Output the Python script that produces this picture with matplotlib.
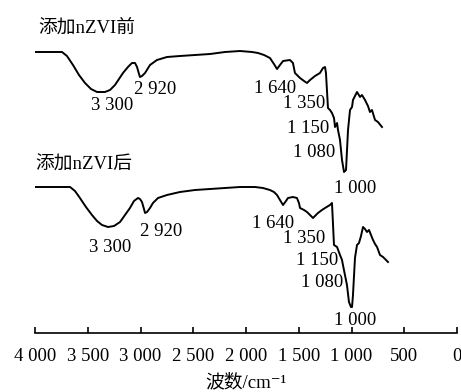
import matplotlib
matplotlib.use("Agg")
import matplotlib.pyplot as plt
import numpy as np

plt.rcParams['font.family'] = ['Liberation Serif', 'Noto Sans CJK SC', 'DejaVu Serif']

# spectrum before nZVI (wavenumber, transmittance a.u.)
wn_before = [4000, 3744, 3697, 3640, 3583, 3526, 3469, 3412, 3337, 3289,
             3242, 3166, 3119, 3081, 3052, 3033, 3014, 3005, 2986, 2957,
             2910, 2844, 2749, 2626, 2483, 2341, 2199, 2057, 1943, 1886,
             1829, 1773, 1735, 1706, 1678, 1649, 1583, 1555, 1536, 1488,
             1450, 1422, 1393, 1346, 1299, 1270, 1251, 1242, 1223, 1204,
             1185, 1166, 1156, 1137, 1128, 1109, 1090, 1071, 1052, 1033,
             1014, 995, 986, 948, 919, 901, 872, 844, 825, 806,
             777, 749, 711]
t_before = [281, 281, 277, 268, 258, 250, 244, 241, 241, 243,
            248, 260, 266, 270, 270, 266, 259, 256, 257, 260,
            268, 273, 276, 277, 278, 279, 281, 282, 281, 280,
            278, 275, 269, 264, 268, 272, 273, 270, 260, 255,
            252, 250, 253, 257, 260, 265, 266, 260, 225, 223,
            220, 215, 206, 210, 203, 193, 173, 161, 163, 203,
            223, 226, 233, 241, 236, 238, 233, 227, 221, 223,
            213, 211, 206]

# spectrum after nZVI
wn_after = [4000, 3668, 3621, 3574, 3517, 3460, 3412, 3365, 3308, 3251,
            3194, 3147, 3100, 3062, 3024, 3005, 2986, 2967, 2957, 2938,
            2910, 2882, 2834, 2749, 2626, 2483, 2341, 2199, 2057, 1915,
            1839, 1773, 1735, 1706, 1678, 1649, 1621, 1602, 1555, 1517,
            1498, 1488, 1450, 1422, 1393, 1365, 1337, 1318, 1280, 1251,
            1204, 1185, 1175, 1166, 1137, 1109, 1090, 1081, 1062, 1043,
            1024, 1005, 995, 986, 967, 948, 929, 910, 891, 872,
            853, 834, 815, 796, 777, 758, 730, 701, 654]
t_after = [146, 146, 142, 135, 126, 118, 112, 108, 106, 107,
           111, 118, 125, 132, 135, 134, 131, 124, 120, 121,
           125, 130, 135, 138, 141, 143, 144, 145, 146, 146,
           145, 143, 141, 138, 133, 128, 132, 135, 136, 135,
           130, 125, 123, 121, 118, 115, 118, 120, 123, 125,
           128, 130, 108, 88, 86, 78, 73, 68, 58, 48,
           31, 26, 26, 38, 75, 88, 90, 97, 106, 104,
           101, 103, 98, 93, 89, 86, 78, 76, 71]

peak_labels = ["3 300", "2 920", "1 640", "1 350", "1 150", "1 080", "1 000"]
# label anchor points (wavenumber, baseline) for each spectrum
pos_before = [(3270, 223), (2863, 239), (1725, 240), (1450, 225),
              (1412, 200), (1356, 176), (967, 140)]
pos_after = [(3289, 81), (2806, 97), (1744, 105), (1450, 90),
             (1327, 68), (1280, 46), (967, 8)]

ticks = [4000, 3500, 3000, 2500, 2000, 1500, 1000, 500, 0]
tick_labels = ["4 000", "3 500", "3 000", "2 500", "2 000", "1 500", "1 000", "500", "0"]

fig = plt.figure(figsize=(4.61, 3.92), dpi=100)
ax = fig.add_axes([35 / 461, 59 / 392, 422 / 461, 333 / 392])
ax.plot(wn_before, t_before, color='black', lw=1.4)
ax.plot(wn_after, t_after, color='black', lw=1.4)

for lab, (x, y) in zip(peak_labels, pos_before):
    ax.text(x, y, lab, ha='center', va='baseline', fontsize=13.5)
for lab, (x, y) in zip(peak_labels, pos_after):
    ax.text(x, y, lab, ha='center', va='baseline', fontsize=13.5)

ax.text(3972, 300, "添加nZVI前", ha='left', va='baseline', fontsize=13.5)
ax.text(4000, 163, "添加nZVI后", ha='left', va='baseline', fontsize=13.5)

ax.set_xlim(4000, 0)
ax.set_ylim(0, 333)
ax.set_xticks(ticks)
ax.set_xticklabels(tick_labels, fontsize=13.5)
ax.set_yticks([])
for s in ['top', 'left', 'right']:
    ax.spines[s].set_visible(False)
ax.spines['bottom'].set_linewidth(1.2)
ax.tick_params(axis='x', direction='in', length=4, width=1.2, pad=11)
ax.set_xlabel("波数/cm⁻¹", fontsize=13.5, labelpad=6)
ax.patch.set_alpha(0)

fig.savefig("out.png", dpi=100)
